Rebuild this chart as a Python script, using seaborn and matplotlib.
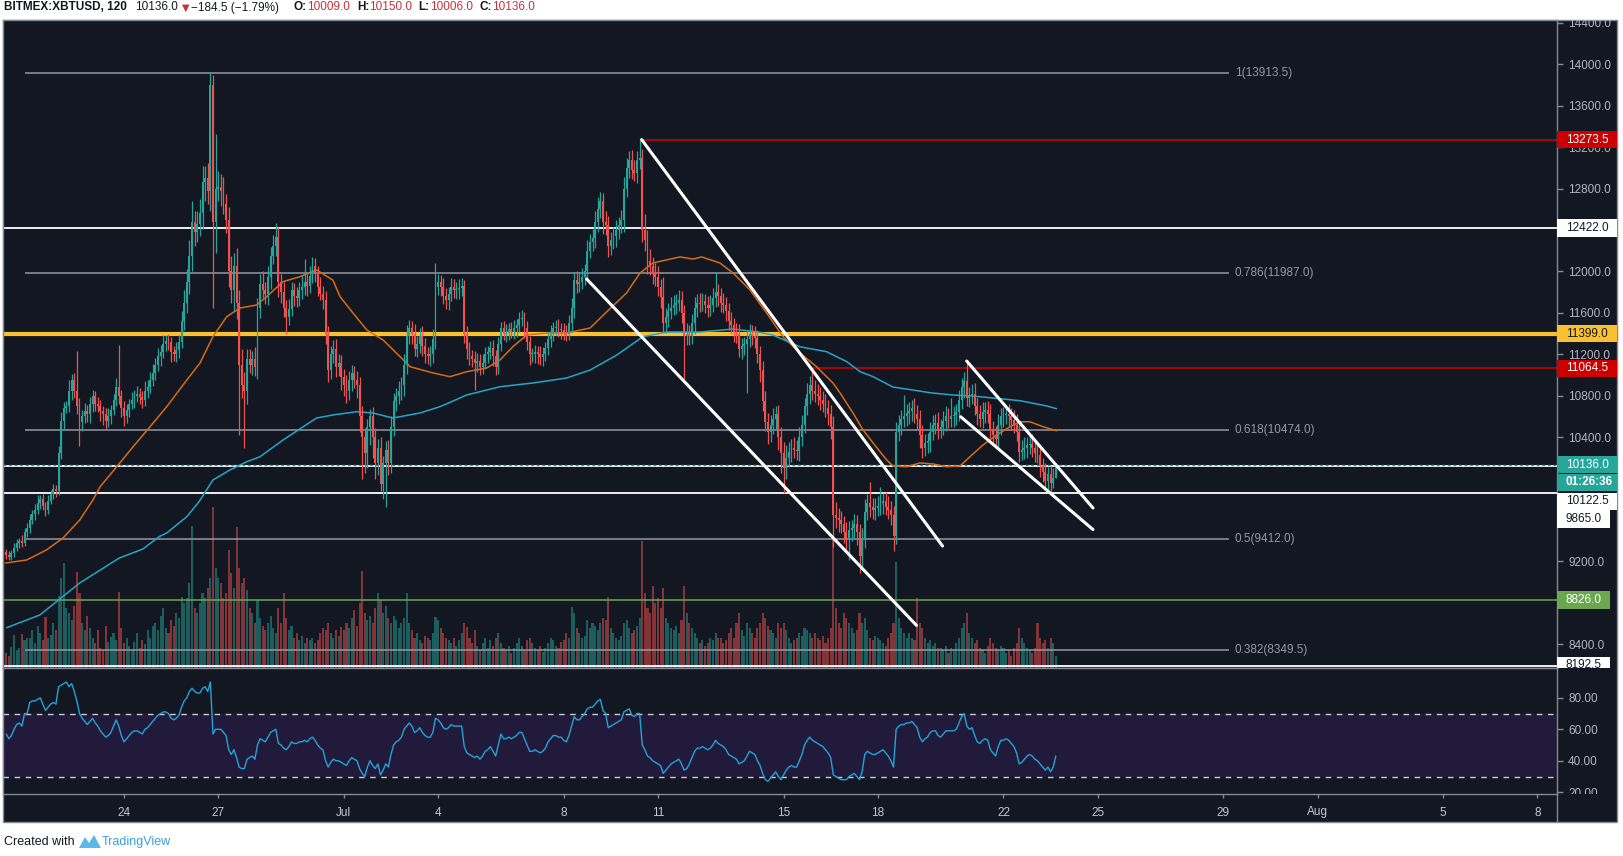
import numpy as np
import pandas as pd
import matplotlib
matplotlib.use('Agg')
import matplotlib.pyplot as plt
import matplotlib.dates as mdates
from matplotlib.patches import Rectangle, Polygon
from matplotlib.lines import Line2D
from matplotlib.transforms import Bbox, TransformedBbox
import seaborn as sns

# BITMEX:XBTUSD, 120 min candles, 2019-06-20 06:00 -> 2019-07-23 16:00
start = '2019-06-20 06:00'
first_open = 9290

close = [
    9260, 9240, 9280, 9330, 9380, 9400, 9380, 9480, 9520,                              # Jun 20
    9600, 9660, 9700, 9760, 9800, 9740, 9700, 9780, 9850, 9900, 9880, 10250,           # Jun 21
    10560, 10680, 10700, 10850, 10950, 10850, 10700, 10550, 10600, 10650, 10620, 10720,  # Jun 22
    10800, 10720, 10700, 10650, 10620, 10560, 10600, 10660, 10760, 10880, 10800, 10680,  # Jun 23
    10600, 10660, 10720, 10760, 10800, 10820, 10790, 10760, 10850, 10880, 10950, 11020,  # Jun 24
    11100, 11180, 11220, 11300, 11330, 11320, 11220, 11200, 11240, 11320, 11520, 11700,  # Jun 25
    11900, 12150, 12480, 12380, 12460, 12560, 12860, 12900, 12780, 13800, 12480, 12800,  # Jun 26
    12820, 12780, 12650, 12500, 12000, 11820, 12050, 11700, 11100, 10900, 10850, 11150,  # Jun 27
    11100, 11150, 11080, 11650, 11880, 11820, 11780, 11950, 12150, 12250, 12330, 11900,  # Jun 28
    11800, 11650, 11560, 11640, 11820, 11760, 11740, 11820, 11850, 11900, 11860, 11960,  # Jun 29
    12050, 11980, 11850, 11780, 11720, 11400, 11050, 11200, 11250, 11080, 11120, 10980,  # Jun 30
    10900, 10850, 10950, 11020, 10950, 10900, 10600, 10400, 10250, 10500, 10600, 10400,  # Jul 1
    10150, 10300, 9950, 10150, 10280, 10150, 10500, 10750, 10800, 10850, 10900, 11100,   # Jul 2
    11380, 11450, 11400, 11250, 11300, 11380, 11280, 11200, 11180, 11200, 11350, 11850,  # Jul 3
    11900, 11850, 11760, 11720, 11780, 11850, 11820, 11830, 11840, 11860, 11400, 11250,  # Jul 4
    11180, 11150, 11120, 11140, 11080, 11120, 11200, 11220, 11260, 11180, 11080, 11300,  # Jul 5
    11450, 11400, 11410, 11440, 11420, 11450, 11480, 11540, 11550, 11450, 11320, 11200,  # Jul 6
    11200, 11220, 11200, 11170, 11200, 11260, 11350, 11400, 11450, 11460, 11440, 11430,  # Jul 7
    11420, 11400, 11500, 11650, 11920, 11880, 11900, 11950, 12000, 12200, 12280, 12320,  # Jul 8
    12480, 12600, 12680, 12480, 12450, 12250, 12300, 12340, 12400, 12450, 12500, 12800,  # Jul 9
    13000, 13080, 12980, 12950, 13080, 13100, 12400, 12300, 12100, 12050, 11980, 11950,  # Jul 10
    11850, 11750, 11500, 11560, 11620, 11650, 11680, 11700, 11720, 11600, 11380, 11400,  # Jul 11
    11380, 11500, 11650, 11700, 11690, 11710, 11680, 11650, 11680, 11740, 11800, 11760,  # Jul 12
    11700, 11680, 11620, 11520, 11480, 11420, 11400, 11250, 11280, 11300, 11350, 11400,  # Jul 13
    11380, 11360, 11200, 11050, 10750, 10550, 10450, 10520, 10580, 10620, 10400, 10250,  # Jul 14
    10100, 10200, 10260, 10300, 10280, 10270, 10400, 10520, 10700, 10820, 10900, 10850,  # Jul 15
    10820, 10800, 10760, 10720, 10680, 10620, 10500, 9650, 9620, 9600, 9560, 9480,       # Jul 16
    9420, 9500, 9520, 9560, 9480, 9250, 9420, 9680, 9760, 9730, 9700, 9720,             # Jul 17
    9740, 9760, 9780, 9730, 9700, 9650, 9450, 10450, 10520, 10580, 10600, 10630,        # Jul 18
    10650, 10680, 10620, 10580, 10420, 10300, 10340, 10360, 10450, 10520, 10540, 10480,  # Jul 19
    10500, 10560, 10600, 10580, 10600, 10610, 10640, 10760, 10880, 10940, 10780, 10800,  # Jul 20
    10820, 10700, 10620, 10580, 10640, 10660, 10620, 10480, 10420, 10380, 10520, 10600,  # Jul 21
    10610, 10620, 10600, 10570, 10520, 10450, 10260, 10280, 10300, 10320, 10330, 10300,  # Jul 22
    10250, 10230, 10120, 10060, 9980, 10040, 9960, 10009, 10136,                         # Jul 23
]

wick_up = [
    30, 40, 30, 50, 40, 30, 60, 40, 50,
    60, 40, 50, 80, 40, 50, 30, 60, 40, 50, 40, 60,
    80, 60, 50, 100, 60, 70, 380, 80, 60, 80, 60, 70,
    60, 50, 70, 60, 50, 60, 80, 50, 60, 90, 410, 60,
    70, 60, 50, 80, 60, 70, 50, 60, 90, 70, 80, 90,
    60, 80, 70, 90, 60, 70, 50, 60, 80, 70, 100, 120,
    120, 150, 200, 100, 120, 140, 160, 120, 150, 129, 100, 530,
    150, 120, 130, 100, 120, 150, 130, 180, 120, 150, 130, 100,
    100, 80, 120, 90, 100, 120, 80, 100, 90, 100, 135, 100,
    80, 100, 70, 90, 80, 70, 90, 80, 120, 220, 80, 90,
    90, 80, 70, 100, 80, 90, 70, 80, 90, 100, 80, 70,
    80, 100, 90, 80, 70, 90, 80, 100, 90, 80, 70, 90,
    90, 80, 100, 70, 80, 90, 100, 80, 70, 90, 80, 100,
    100, 80, 70, 90, 80, 70, 90, 80, 70, 80, 90, 230,
    80, 70, 90, 80, 70, 90, 80, 70, 90, 80, 60, 70,
    70, 60, 80, 70, 60, 80, 70, 60, 70, 80, 60, 70,
    60, 70, 80, 60, 70, 80, 60, 70, 80, 60, 70, 60,
    60, 70, 60, 80, 70, 60, 70, 80, 60, 70, 80, 60,
    70, 60, 80, 90, 70, 80, 90, 80, 70, 100, 80, 90,
    100, 120, 90, 80, 100, 90, 80, 90, 100, 80, 90, 110,
    100, 80, 90, 100, 80, 173.5, 80, 150, 100, 120, 90, 100,
    100, 80, 200, 90, 80, 100, 90, 80, 100, 90, 80, 100,
    80, 90, 100, 80, 90, 80, 70, 80, 90, 100, 190, 80,
    80, 90, 70, 80, 90, 70, 80, 90, 80, 70, 80, 90,
    80, 90, 70, 80, 90, 100, 80, 90, 100, 80, 90, 100,
    100, 120, 90, 80, 100, 90, 100, 90, 80, 100, 90, 164.5,
    100, 90, 80, 90, 100, 80, 90, 100, 120, 100, 90, 80,
    100, 90, 80, 100, 90, 80, 100, 120, 90, 210, 80, 90,
    90, 160, 80, 90, 100, 80, 90, 100, 90, 80, 210, 90,
    90, 80, 100, 90, 80, 100, 90, 80, 100, 90, 80, 100,
    80, 90, 100, 80, 180, 90, 80, 100, 90, 90, 190, 80,
    90, 100, 80, 90, 100, 80, 90, 100, 80, 90, 100, 80,
    80, 90, 100, 80, 90, 100, 80, 90, 100, 80, 90, 100,
    80, 90, 70, 80, 90, 70, 80, 90, 14,
]

wick_dn = [
    40, 30, 30, 40, 30, 50, 40, 30, 40,
    50, 40, 60, 40, 50, 40, 60, 40, 30, 50, 60, 40,
    60, 80, 50, 60, 90, 70, 80, 240, 90, 60, 70, 80,
    80, 70, 60, 90, 100, 80, 60, 70, 50, 60, 80, 90,
    90, 60, 70, 50, 80, 60, 70, 80, 60, 70, 50, 60,
    70, 60, 90, 60, 70, 80, 90, 60, 70, 80, 60, 90,
    100, 120, 150, 130, 100, 120, 150, 180, 130, 200, 830, 300,
    120, 150, 100, 130, 150, 120, 200, 160, 680, 120, 550, 130,
    80, 100, 90, 120, 100, 80, 90, 100, 120, 80, 100, 150,
    100, 90, 160, 80, 70, 90, 80, 70, 90, 80, 100, 70,
    70, 80, 90, 60, 80, 100, 120, 90, 80, 100, 90, 120,
    100, 120, 90, 100, 80, 120, 150, 400, 200, 150, 180, 200,
    150, 120, 70, 150, 420, 120, 100, 90, 100, 80, 90, 100,
    90, 80, 100, 70, 80, 90, 100, 80, 70, 90, 80, 100,
    80, 90, 70, 80, 90, 70, 80, 90, 100, 80, 90, 100,
    80, 70, 260, 90, 80, 70, 60, 80, 70, 90, 80, 70,
    70, 60, 80, 70, 60, 70, 80, 60, 70, 90, 80, 100,
    70, 80, 90, 70, 80, 60, 70, 80, 70, 60, 70, 80,
    80, 70, 60, 80, 100, 90, 80, 70, 80, 90, 70, 80,
    90, 100, 80, 120, 100, 110, 90, 80, 100, 90, 80, 120,
    80, 100, 90, 80, 100, 90, 120, 100, 120, 80, 100, 90,
    90, 100, 80, 90, 100, 80, 70, 90, 80, 100, 420, 90,
    90, 80, 100, 90, 80, 70, 80, 90, 80, 70, 80, 90,
    90, 80, 100, 90, 80, 100, 90, 80, 100, 90, 470, 80,
    90, 100, 80, 120, 100, 90, 120, 100, 90, 100, 120, 200,
    240, 100, 90, 100, 80, 90, 100, 90, 80, 90, 100, 90,
    80, 90, 100, 80, 90, 100, 120, 310, 100, 120, 90, 100,
    120, 210, 100, 90, 120, 160, 100, 90, 80, 100, 90, 100,
    80, 90, 100, 80, 90, 100, 150, 80, 90, 100, 80, 90,
    100, 90, 80, 100, 120, 100, 80, 90, 100, 80, 90, 100,
    90, 80, 100, 90, 80, 100, 90, 80, 90, 100, 80, 90,
    80, 90, 100, 80, 90, 100, 80, 90, 100, 80, 90, 100,
    100, 80, 90, 100, 80, 90, 100, 80, 90, 100, 80, 90,
    90, 80, 100, 90, 80, 90, 90, 50, 3,
]

# volume, millions USD per 2h bar
volume = [
    150, 120, 210, 330, 180, 200, 340, 280, 300,
    300, 380, 250, 420, 350, 280, 510, 300, 330, 450, 380, 720,
    900, 1050, 600, 550, 480, 620, 960, 750, 450, 380, 520, 400,
    300, 250, 380, 200, 180, 420, 260, 310, 350, 280, 760, 400,
    250, 300, 220, 180, 260, 350, 200, 280, 240, 380, 300, 420,
    450, 380, 520, 600, 400, 350, 480, 420, 550, 500, 710, 650,
    700, 850, 1420, 600, 550, 650, 750, 700, 800, 900, 1610, 1000,
    900, 850, 700, 750, 1180, 950, 800, 1410, 1000, 850, 900, 780,
    600, 550, 450, 680, 500, 420, 380, 450, 520, 400, 350, 600,
    450, 750, 500, 380, 420, 300, 350, 280, 320, 250, 300, 280,
    300, 250, 280, 350, 400, 380, 450, 350, 300, 380, 320, 410,
    380, 450, 400, 500, 580, 420, 650, 970, 550, 480, 520, 450,
    600, 750, 680, 550, 620, 500, 450, 520, 480, 400, 450, 500,
    750, 450, 380, 300, 350, 280, 250, 320, 300, 280, 350, 510,
    480, 400, 350, 300, 280, 250, 300, 220, 280, 350, 450, 410,
    300, 250, 380, 220, 180, 250, 300, 200, 280, 220, 300, 350,
    250, 200, 180, 220, 150, 200, 250, 300, 220, 180, 280, 300,
    250, 200, 180, 220, 160, 200, 250, 300, 280, 220, 200, 260,
    280, 350, 300, 610, 550, 400, 350, 300, 320, 480, 400, 450,
    420, 380, 450, 500, 480, 710, 400, 350, 300, 280, 320, 450,
    480, 400, 350, 380, 420, 500, 1270, 750, 600, 550, 820, 650,
    700, 600, 800, 500, 450, 400, 380, 420, 350, 480, 820, 550,
    450, 400, 350, 300, 250, 280, 220, 250, 300, 280, 350, 300,
    300, 250, 280, 350, 400, 300, 450, 550, 380, 320, 450, 400,
    350, 300, 400, 450, 550, 500, 420, 380, 350, 300, 450, 400,
    450, 380, 300, 250, 280, 300, 350, 320, 400, 380, 350, 300,
    350, 300, 280, 320, 250, 300, 400, 1300, 600, 450, 400, 550,
    500, 450, 400, 350, 380, 550, 450, 500, 380, 300, 280, 320,
    300, 280, 250, 220, 300, 350, 450, 1060, 500, 400, 350, 300,
    350, 300, 280, 700, 450, 400, 300, 250, 280, 220, 250, 200,
    200, 180, 220, 150, 200, 180, 250, 300, 400, 450, 550, 350,
    300, 250, 280, 200, 180, 150, 220, 300, 250, 200, 180, 220,
    200, 150, 180, 120, 200, 250, 400, 300, 250, 200, 180, 150,
    200, 450, 300, 250, 280, 200, 300, 250, 120,
]

rsi = [
    57, 54, 56, 60, 63, 64, 62, 70, 70,
    77, 78, 78, 79, 80, 76, 72, 74, 76, 77, 76, 87,
    88, 89, 90, 87, 89, 84, 78, 70, 67, 65, 63, 65,
    67, 64, 62, 59, 57, 55, 56, 58, 62, 66, 62, 56,
    52, 54, 56, 58, 59, 59, 58, 57, 60, 61, 63, 65,
    67, 69, 70, 71, 71, 70, 67, 66, 67, 69, 74, 78,
    80, 84, 86, 84, 83, 83, 86, 87, 84, 90, 57, 60,
    60, 60, 58, 56, 47, 44, 47, 42, 36, 35, 35, 41,
    42, 43, 41, 50, 54, 53, 52, 55, 58, 59, 60, 51,
    50, 48, 47, 49, 52, 51, 51, 52, 52, 53, 52, 54,
    55, 53, 50, 48, 47, 40, 36, 39, 41, 40, 40, 39,
    38, 37, 40, 42, 41, 40, 35, 32, 30, 36, 40, 37,
    35, 38, 31, 34, 38, 36, 44, 50, 52, 53, 55, 60,
    62, 64, 62, 58, 59, 61, 58, 56, 55, 55, 58, 67,
    66, 64, 61, 60, 61, 63, 62, 62, 62, 62, 49, 45,
    44, 43, 42, 43, 41, 43, 46, 47, 49, 46, 43, 50,
    57, 54, 54, 55, 54, 55, 56, 58, 58, 54, 50, 46,
    46, 47, 46, 45, 46, 48, 52, 54, 56, 56, 55, 55,
    53, 52, 56, 62, 68, 66, 66, 68, 70, 73, 74, 74,
    76, 78, 79, 72, 70, 61, 62, 63, 64, 65, 66, 71,
    72, 73, 69, 68, 70, 70, 50, 47, 43, 42, 40, 39,
    38, 37, 32, 34, 36, 38, 39, 40, 41, 38, 34, 35,
    38, 42, 46, 48, 48, 49, 48, 47, 48, 50, 53, 51,
    50, 49, 47, 44, 43, 42, 41, 38, 39, 40, 43, 46,
    45, 44, 40, 37, 32, 28, 27, 29, 31, 33, 30, 28,
    31, 34, 36, 37, 36, 36, 40, 44, 50, 53, 55, 53,
    52, 51, 50, 49, 47, 45, 42, 31, 30, 29, 28, 28,
    28, 30, 31, 32, 30, 28, 33, 44, 46, 45, 44, 44,
    45, 46, 47, 45, 43, 40, 36, 60, 62, 63, 63, 64,
    64, 65, 63, 61, 55, 52, 54, 55, 58, 59, 59, 56,
    55, 57, 59, 59, 59, 59, 60, 64, 68, 70, 62, 60,
    61, 56, 52, 51, 53, 54, 53, 47, 45, 43, 49, 53,
    53, 54, 53, 51, 49, 45, 38, 39, 41, 43, 44, 43,
    41, 40, 38, 36, 34, 36, 33, 36, 43,
]

# moving averages (days from 24 Jun 00:00, price)
ma_fast_day = [-3.77, -3.10, -2.47, -1.94, -1.41, -0.99, -0.76, -0.23, 0.29, 0.83, 1.36, 2.00,
               2.42, 2.83, 3.27, 3.69, 4.22, 4.54, 5.06, 5.60, 6.13, 6.65, 6.88, 7.29, 7.73,
               8.25, 8.79, 9.11, 9.84, 10.38, 10.91, 11.55, 11.97, 12.38, 12.82, 13.46, 14.09,
               14.84, 15.37, 16.00, 16.43, 16.84, 17.70, 18.12, 18.39, 18.97, 19.39, 19.93,
               20.46, 20.98, 21.52, 22.05, 22.57, 22.80, 23.21, 23.53, 23.85, 24.28, 24.48,
               24.92, 25.34, 25.76, 26.19, 26.62, 26.93, 27.35, 27.78, 28.21, 28.53, 28.84,
               29.26, 29.69]
ma_fast = [9185, 9214, 9311, 9427, 9600, 9793, 9922, 10115, 10308, 10501, 10694, 10952,
           11116, 11370, 11563, 11647, 11676, 11756, 11901, 11949, 12014, 11917, 11756, 11599, 11435,
           11338, 11177, 11080, 11020, 10984, 11032, 11068, 11145, 11273, 11386, 11406, 11406,
           11454, 11611, 11792, 11985, 12082, 12140, 12120, 12140, 12082, 11985, 11821,
           11599, 11370, 11213, 11080, 10923, 10826, 10633, 10469, 10344, 10180, 10122,
           10115, 10151, 10141, 10115, 10122, 10211, 10325, 10421, 10501, 10549, 10549,
           10501, 10462]
ma_slow_day = [-3.74, -2.68, -1.41, -0.15, 0.60, 1.12, 1.36, 2.00, 2.39, 2.83, 3.37, 3.91, 4.33,
               5.06, 6.13, 6.65, 7.41, 7.93, 8.56, 9.42, 10.06, 10.91, 11.97, 13.02, 14.09,
               14.84, 15.69, 16.52, 17.28, 18.34, 19.39, 20.14, 20.66, 21.52, 22.37, 23.01,
               23.44, 23.85, 24.48, 25.12, 25.66, 26.39, 27.03, 27.67, 28.53, 29.38, 29.69]
ma_slow = [8560, 8683, 8992, 9233, 9320, 9439, 9475, 9632, 9777, 9986, 10083, 10163, 10211,
           10372, 10585, 10614, 10646, 10633, 10585, 10633, 10694, 10807, 10887, 10923, 10971,
           11048, 11193, 11370, 11415, 11415, 11444, 11418, 11386, 11273, 11225, 11129,
           11032, 10984, 10884, 10855, 10829, 10807, 10797, 10778, 10752, 10701, 10675]

fib_names = ['1', '0.786', '0.618', '0.5', '0.382']
fib_levels = [13913.5, 11987.0, 10474.0, 9412.0, 8349.5]
white_levels = [12422.0, 10122.5, 9865.0, 8192.5]
yellow_level = 11399.0
green_level = 8826.0
red_levels = [13273.5, 11064.5]
red_from_day = [16.48, 21.92]
last_price = 10136.0

# drawn channel lines: (day, price) -> (day, price)
trend_lines = [
    ((16.48, 13273.5), (26.06, 9349)),
    ((14.73, 11927), (25.23, 8583)),
    ((26.83, 11135), (30.85, 9716)),
    ((26.64, 10597), (30.85, 9508)),
]

tick_days = [0, 3, 7, 10, 14, 17, 21, 24, 28, 31, 35, 38, 42, 45]
tick_labels = ['24', '27', 'Jul', '4', '8', '11', '15', '18', '22', '25', '29', 'Aug', '5', '8']
price_ticks = [8400, 8800, 9200, 9600, 10000, 10400, 10800, 11200, 11600, 12000, 12400,
               12800, 13200, 13600, 14000, 14400]
covered_ticks = [8800, 9600, 10000, 12400]   # hidden under the price tags

# ---------------------------------------------------------------
sns.set_theme(style='dark')
plt.rcParams['font.family'] = ['Liberation Sans', 'DejaVu Sans']

W, H = 1623, 856
BG = '#131722'
LINE = '#868993'
TXT = '#b2b5be'
UP, DN = '#26a69a', '#ef5350'
UP_V, DN_V = '#1c5e5e', '#813539'
FIB = '#9598a1'
FS = 8.5


def fx(px):
    return px / W


def fy(py):
    return 1 - py / H


n = min(len(close), len(wick_up), len(wick_dn), len(volume), len(rsi))
if n != len(close):
    print('length mismatch', len(close), len(wick_up), len(wick_dn), len(volume), len(rsi))
c = np.array(close[:n], float)
o = np.r_[first_open, c[:-1]]
hi = np.maximum(o, c) + np.array(wick_up[:n])
lo = np.minimum(o, c) - np.array(wick_dn[:n])
vol = np.array(volume[:n], float)
up = c >= o
x = mdates.date2num(pd.date_range(start, periods=n, freq='2h'))
base = mdates.date2num(pd.Timestamp('2019-06-24'))

fig = plt.figure(figsize=(W / 100, H / 100), dpi=100, facecolor='white')
fig.add_artist(Rectangle((fx(3), fy(822)), fx(1617) - fx(3), fy(20) - fy(822),
                         transform=fig.transFigure, facecolor=BG, edgecolor=LINE,
                         lw=1, zorder=-5))
fig.add_artist(Line2D([fx(1557), fx(1557)], [fy(794), fy(822)], transform=fig.transFigure,
                      color=LINE, lw=1))

rect_price = [fx(3), fy(668), fx(1557) - fx(3), fy(20) - fy(668)]
rect_rsi = [fx(3), fy(794), fx(1557) - fx(3), fy(668) - fy(794)]
axv = fig.add_axes(rect_price)
ax = fig.add_axes(rect_price, sharex=axv)
axr = fig.add_axes(rect_rsi, sharex=axv)

xlim = (base - 3.852, base + 45.623)
ax.set_xlim(*xlim)
ax.set_ylim(8171.3, 14427.7)

# volume
axv.set_facecolor(BG)
axv.bar(x, vol, width=0.066, color=np.where(up, UP_V, DN_V), linewidth=0)
axv.set_ylim(0, vol.max() * 4.02)
axv.set_yticks([])
axv.tick_params(bottom=False, labelbottom=False)
for s in axv.spines.values():
    s.set_visible(False)

# price pane
ax.patch.set_visible(False)
x_end = base + 45.623
ax.hlines(fib_levels, base - 3.15, base + 35.18, color=FIB, lw=1.1, zorder=2)
for name, lv in zip(fib_names, fib_levels):
    ax.text(base + 35.37, lv, f'{name}({lv:.1f})', color=FIB, fontsize=FS, va='center', ha='left')
for lv in white_levels:
    ax.axhline(lv, color='white', lw=1.3, zorder=2)
ax.axhline(yellow_level, color='#fbc02d', lw=3, zorder=2)
ax.axhline(green_level, color='#6aa84f', lw=1.1, zorder=2)
ax.axhline(last_price, color=UP, lw=1, ls=(0, (2, 2)), zorder=2)
for lv, d0 in zip(red_levels, red_from_day):
    ax.hlines(lv, base + d0, x_end, color='#cc0000', lw=1.1, zorder=2)

sns.lineplot(x=base + np.array(ma_fast_day), y=ma_fast, ax=ax, color='#d96b13', lw=1.1, zorder=2.5)
sns.lineplot(x=base + np.array(ma_slow_day), y=ma_slow, ax=ax, color='#26a5c8', lw=1.1, zorder=2.5)

cols = np.where(up, UP, DN)
ax.vlines(x, lo, hi, colors=cols, lw=0.9, zorder=3)
ax.bar(x, np.maximum(np.abs(c - o), 8), bottom=np.minimum(o, c), width=0.06,
       color=cols, linewidth=0, zorder=3.1)

for (d0, p0), (d1, p1) in trend_lines:
    ax.plot([base + d0, base + d1], [p0, p1], color='white', lw=2.2, zorder=4,
            solid_capstyle='round')

ax.set_xlabel('')
ax.set_ylabel('')
ax.yaxis.tick_right()
ax.set_yticks(price_ticks)
ax.yaxis.set_major_formatter(plt.FuncFormatter(
    lambda v, _: '' if round(v) in covered_ticks else f'{v:.1f}'))
ax.tick_params(axis='y', which='both', left=False, labelleft=False, right=True, labelright=True,
               colors=LINE, labelcolor=TXT, length=4, width=1, pad=4, labelsize=FS)
ax.tick_params(axis='x', bottom=False, labelbottom=False)
for s in ax.spines.values():
    s.set_color(LINE)
    s.set_linewidth(1)

# RSI pane
axr.set_facecolor(BG)
axr.axhspan(30, 70, color='#211a3a', zorder=0, lw=0)
for lv in (70, 30):
    axr.axhline(lv, color='#c8cbd3', lw=1, ls=(0, (4, 4)), zorder=1)
sns.lineplot(x=x, y=np.array(rsi[:n], float), ax=axr, color='#23a3d9', lw=1, zorder=2)
axr.set_ylim(18.9, 98.9)
axr.set_xlim(*xlim)
axr.set_xlabel('')
axr.set_ylabel('')
axr.yaxis.tick_right()
axr.set_yticks([20, 40, 60, 80])
axr.yaxis.set_major_formatter(plt.FormatStrFormatter('%.2f'))
axr.tick_params(axis='y', left=False, labelleft=False, right=True, labelright=True,
                colors=LINE, labelcolor=TXT, length=4, width=1, pad=4, labelsize=FS)
axr.set_xticks(base + np.array(tick_days, float))
axr.set_xticklabels(tick_labels)
axr.tick_params(axis='x', bottom=True, labelbottom=True, colors=LINE, labelcolor='#c3c6ce',
                length=3, width=1, pad=6, labelsize=FS)
for s in axr.spines.values():
    s.set_color(LINE)
    s.set_linewidth(1)

# clip axis labels to their panes
clip_price = TransformedBbox(Bbox([[fx(1557), fy(668)], [fx(1617), fy(20)]]), fig.transFigure)
clip_rsi = TransformedBbox(Bbox([[fx(1557), fy(794)], [fx(1617), fy(668)]]), fig.transFigure)
for a, cb in ((ax, clip_price), (axr, clip_rsi)):
    for t in a.yaxis.get_major_ticks():
        t.label2.set_clip_box(cb)
        t.label2.set_clip_on(True)


# price tags on the scale
def tag(price, text, fc, tc, dy=0.0, x1=1617, bold=False):
    yc = ax.transData.transform((xlim[0], price))[1] / H - dy / H
    r = Rectangle((fx(1557), yc - 8.8 / H), fx(x1) - fx(1557), 17.6 / H, transform=fig.transFigure,
                  facecolor=fc, edgecolor='none', zorder=5)
    fig.add_artist(r)
    r.set_clip_box(clip_price)
    t = fig.text(fx(1566), yc, text, color=tc, fontsize=FS, va='center', ha='left', zorder=6,
                 fontweight='bold' if bold else 'normal')
    t.set_clip_box(clip_price)
    t.set_clip_on(True)


tag(13273.5, '13273.5', '#cc0000', 'white')
tag(12422.0, '12422.0', 'white', BG)
tag(11399.0, '11399.0', '#fbc02d', BG)
tag(11064.5, '11064.5', '#cc0000', 'white')
tag(10136.0, '10136.0', UP, 'white')
tag(10136.0, '01:26:36', UP, 'white', dy=17.8, bold=True)
tag(10122.5, '10122.5', 'white', BG, dy=35.5)
tag(9865.0, '9865.0', 'white', BG, dy=26.5, x1=1610)
tag(8826.0, '8826.0', '#6aa84f', 'white', x1=1610)
tag(8192.5, '8192.5', 'white', BG, dy=-0.5, x1=1610)

# header line
hy = fy(7.5)
RED = '#c8303c'
header = [
    (3.6, 'BITMEX:XBTUSD, 120', BG, 'bold'),
    (134.6, '10136.0', BG, 'normal'),
    (191, '\u2212184.5 (\u22121.79%)', BG, 'normal'),
    (293.6, 'O:', BG, 'bold'), (307, '10009.0', RED, 'normal'),
    (357, 'H:', BG, 'bold'), (369, '10150.0', RED, 'normal'),
    (418.6, 'L:', BG, 'bold'), (429.6, '10006.0', RED, 'normal'),
    (479.6, 'C:', BG, 'bold'), (491.8, '10136.0', RED, 'normal'),
]
for px, s, col, wgt in header:
    fig.text(fx(px), hy, s, color=col, fontsize=FS, fontweight=wgt, va='center', ha='left')
fig.text(fx(181.5), hy, '\u25bc', color=RED, fontsize=7, va='center', ha='left',
         family=['DejaVu Sans'])

# footer
fig.text(fx(4), fy(842), 'Created with', color='#131722', fontsize=9, va='center', ha='left')
fig.add_artist(Polygon([(fx(79), fy(848)), (fx(85), fy(837)), (fx(89), fy(843)), (fx(94), fy(835)),
                        (fx(101), fy(848))], closed=True, transform=fig.transFigure,
                       facecolor='#5cb8e6', edgecolor='none'))
fig.text(fx(102), fy(842), 'TradingView', color='#3aa0dc', fontsize=9, va='center', ha='left')

fig.savefig('out.png', dpi=100, facecolor='white')
